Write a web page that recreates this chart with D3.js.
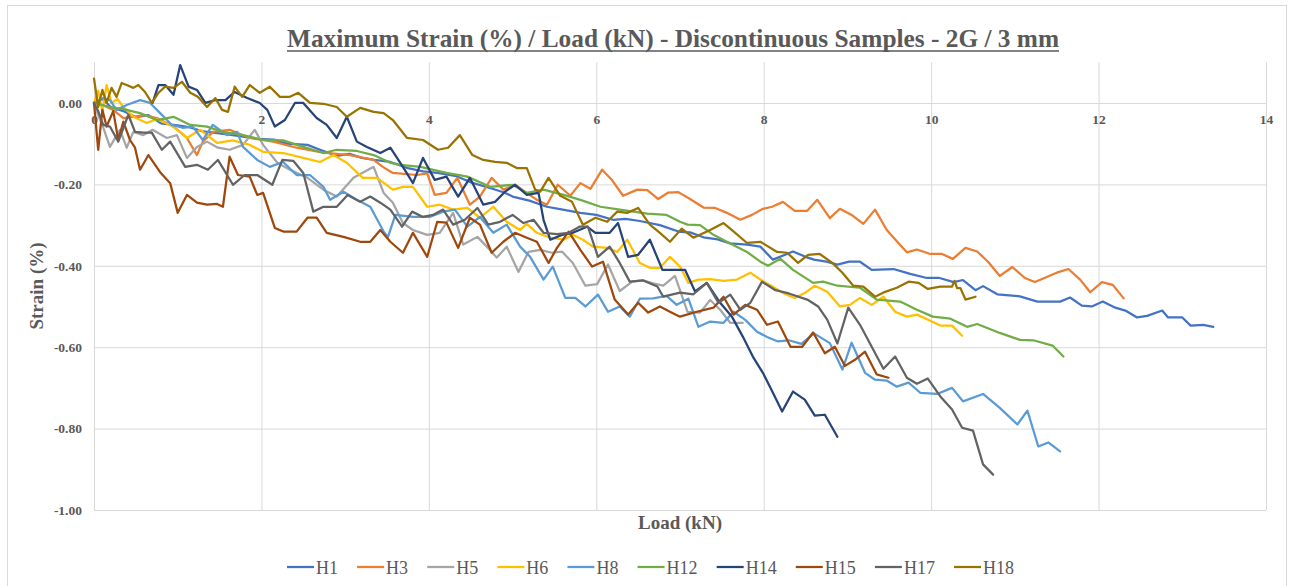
<!DOCTYPE html>
<html><head><meta charset="utf-8">
<script src="https://cdn.jsdelivr.net/npm/d3@7"></script>
<style>body{margin:0;background:#fff}svg{display:block}</style>
</head><body><svg id="c" width="1293" height="586"></svg>
<script>
const chartTitle = "Maximum Strain (%) / Load (kN) - Discontinuous Samples - 2G / 3 mm";
const xTitle = "Load (kN)";
const yTitle = "Strain (%)";
const xTicks = [0, 2, 4, 6, 8, 10, 12, 14];
const yTicks = [0, -0.2, -0.4, -0.6, -0.8, -1.0];
const seriesNames = ["H1", "H3", "H5", "H6", "H8", "H12", "H14", "H15", "H17", "H18"];
const seriesColors = ["#4472C4", "#ED7D31", "#A5A5A5", "#FFC000", "#5B9BD5", "#70AD47", "#264478", "#9E480E", "#636363", "#997300"];

// [load kN, strain %]
const H1 = [[0,0],[0.1,0.01],[0.2,-0.01],[0.35,-0.02],[0.5,-0.035],[0.65,-0.03],[0.8,-0.05],[1.0,-0.055],[1.15,-0.06],[1.3,-0.07],[1.5,-0.075],[1.7,-0.08],[1.95,-0.088],[2.15,-0.09],[2.3,-0.1],[2.55,-0.103],[2.7,-0.115],[2.9,-0.13],[3.05,-0.125],[3.2,-0.135],[3.35,-0.14],[3.54,-0.145],[3.75,-0.16],[3.93,-0.168],[4.1,-0.172],[4.33,-0.18],[4.5,-0.195],[4.73,-0.209],[4.9,-0.22],[5.0,-0.23],[5.2,-0.24],[5.41,-0.255],[5.6,-0.262],[5.81,-0.27],[6.0,-0.275],[6.2,-0.287],[6.35,-0.285],[6.52,-0.29],[6.76,-0.3],[7.0,-0.317],[7.12,-0.318],[7.28,-0.33],[7.45,-0.335],[7.6,-0.345],[7.8,-0.348],[7.96,-0.353],[8.11,-0.385],[8.35,-0.365],[8.5,-0.378],[8.6,-0.385],[8.75,-0.39],[8.88,-0.397],[9.02,-0.39],[9.15,-0.39],[9.29,-0.41],[9.55,-0.408],[9.75,-0.42],[9.95,-0.43],[10.1,-0.43],[10.27,-0.44],[10.38,-0.435],[10.53,-0.46],[10.62,-0.45],[10.79,-0.47],[11.06,-0.475],[11.27,-0.488],[11.54,-0.488],[11.66,-0.478],[11.8,-0.498],[11.92,-0.5],[12.05,-0.488],[12.2,-0.503],[12.32,-0.51],[12.46,-0.527],[12.58,-0.523],[12.76,-0.51],[12.83,-0.527],[13.0,-0.527],[13.1,-0.547],[13.25,-0.545],[13.37,-0.55]];
const H3 = [[0,0],[0.1,-0.005],[0.23,-0.017],[0.35,-0.037],[0.47,-0.034],[0.6,-0.03],[0.75,-0.037],[0.95,-0.058],[1.11,-0.086],[1.23,-0.128],[1.3,-0.095],[1.42,-0.071],[1.62,-0.066],[1.86,-0.086],[2.14,-0.095],[2.42,-0.11],[2.74,-0.122],[3.06,-0.128],[3.34,-0.14],[3.45,-0.157],[3.57,-0.172],[3.86,-0.177],[3.98,-0.173],[4.07,-0.226],[4.21,-0.221],[4.34,-0.184],[4.49,-0.25],[4.61,-0.23],[4.75,-0.184],[4.89,-0.213],[5.03,-0.201],[5.17,-0.221],[5.29,-0.238],[5.41,-0.25],[5.54,-0.201],[5.69,-0.228],[5.81,-0.197],[5.93,-0.211],[6.07,-0.164],[6.19,-0.19],[6.32,-0.228],[6.49,-0.213],[6.61,-0.214],[6.74,-0.236],[6.86,-0.22],[6.98,-0.219],[7.12,-0.236],[7.28,-0.257],[7.42,-0.258],[7.56,-0.27],[7.72,-0.287],[7.86,-0.275],[7.99,-0.26],[8.1,-0.255],[8.23,-0.243],[8.37,-0.265],[8.52,-0.265],[8.64,-0.238],[8.79,-0.283],[8.91,-0.26],[9.05,-0.275],[9.19,-0.297],[9.33,-0.262],[9.47,-0.312],[9.59,-0.34],[9.71,-0.367],[9.83,-0.36],[9.99,-0.371],[10.13,-0.371],[10.26,-0.383],[10.41,-0.356],[10.55,-0.365],[10.68,-0.39],[10.82,-0.425],[10.97,-0.403],[11.12,-0.43],[11.24,-0.44],[11.5,-0.417],[11.64,-0.408],[11.78,-0.434],[11.9,-0.465],[12.04,-0.44],[12.17,-0.447],[12.3,-0.48]];
const H5 = [[0,0],[0.05,-0.03],[0.11,-0.06],[0.19,-0.108],[0.31,-0.066],[0.39,-0.11],[0.47,-0.071],[0.59,-0.079],[0.7,-0.066],[0.87,-0.086],[0.99,-0.079],[1.11,-0.135],[1.23,-0.108],[1.35,-0.095],[1.48,-0.11],[1.62,-0.115],[1.78,-0.103],[1.92,-0.066],[2.02,-0.103],[2.19,-0.147],[2.34,-0.164],[2.55,-0.184],[2.74,-0.213],[2.9,-0.23],[3.1,-0.184],[3.34,-0.157],[3.46,-0.221],[3.57,-0.245],[3.69,-0.295],[3.81,-0.312],[3.98,-0.324],[4.13,-0.319],[4.29,-0.27],[4.41,-0.348],[4.58,-0.329],[4.73,-0.361],[4.81,-0.38],[4.93,-0.353],[5.07,-0.415],[5.19,-0.366],[5.33,-0.361],[5.47,-0.368],[5.59,-0.365],[5.72,-0.393],[5.87,-0.449],[6.01,-0.445],[6.14,-0.397],[6.28,-0.462],[6.43,-0.439],[6.56,-0.436],[6.68,-0.443],[6.8,-0.449],[6.94,-0.425],[7.09,-0.513],[7.24,-0.515],[7.36,-0.484],[7.48,-0.508],[7.6,-0.54],[7.75,-0.54]];
const H6 = [[0,0],[0.05,0.03],[0.1,-0.02],[0.15,0.044],[0.21,0.0],[0.28,0.01],[0.35,-0.01],[0.47,-0.034],[0.63,-0.049],[0.75,-0.04],[0.91,-0.054],[1.03,-0.071],[1.11,-0.086],[1.27,-0.066],[1.47,-0.098],[1.66,-0.092],[1.86,-0.103],[2.02,-0.12],[2.26,-0.123],[2.5,-0.135],[2.7,-0.145],[2.86,-0.128],[3.02,-0.147],[3.21,-0.184],[3.38,-0.184],[3.57,-0.213],[3.69,-0.206],[3.81,-0.206],[3.98,-0.255],[4.13,-0.25],[4.29,-0.262],[4.46,-0.258],[4.61,-0.282],[4.77,-0.255],[4.93,-0.292],[5.09,-0.312],[5.17,-0.297],[5.29,-0.319],[5.45,-0.331],[5.61,-0.336],[5.72,-0.324],[5.84,-0.336],[5.96,-0.353],[6.13,-0.356],[6.25,-0.366],[6.37,-0.336],[6.52,-0.393],[6.64,-0.405],[6.76,-0.405],[6.88,-0.378],[7.0,-0.402],[7.1,-0.442],[7.22,-0.434],[7.36,-0.433],[7.52,-0.437],[7.68,-0.434],[7.84,-0.417],[7.99,-0.438],[8.1,-0.45],[8.23,-0.467],[8.37,-0.479],[8.49,-0.467],[8.61,-0.449],[8.76,-0.464],[8.91,-0.5],[9.03,-0.496],[9.15,-0.479],[9.29,-0.496],[9.43,-0.476],[9.57,-0.513],[9.71,-0.525],[9.83,-0.52],[9.99,-0.535],[10.11,-0.547],[10.25,-0.547],[10.37,-0.572]];
const H8 = [[0,0],[0.11,0.012],[0.19,0.007],[0.27,-0.017],[0.39,-0.005],[0.55,0.007],[0.67,0.0],[0.79,-0.025],[0.93,-0.054],[1.06,-0.061],[1.18,-0.058],[1.3,-0.091],[1.42,-0.054],[1.59,-0.079],[1.71,-0.071],[1.78,-0.108],[1.95,-0.14],[2.1,-0.157],[2.26,-0.145],[2.42,-0.177],[2.58,-0.177],[2.74,-0.206],[2.82,-0.238],[2.98,-0.218],[3.14,-0.238],[3.3,-0.255],[3.46,-0.316],[3.51,-0.33],[3.6,-0.275],[3.81,-0.28],[4.01,-0.28],[4.17,-0.267],[4.31,-0.262],[4.46,-0.304],[4.61,-0.28],[4.77,-0.319],[4.93,-0.299],[5.09,-0.353],[5.21,-0.378],[5.37,-0.434],[5.48,-0.402],[5.63,-0.479],[5.75,-0.479],[5.87,-0.5],[6.02,-0.471],[6.14,-0.513],[6.28,-0.5],[6.4,-0.525],[6.52,-0.481],[6.68,-0.48],[6.84,-0.474],[6.96,-0.496],[7.1,-0.481],[7.22,-0.55],[7.36,-0.537],[7.52,-0.54],[7.64,-0.513],[7.78,-0.533],[7.92,-0.562],[8.04,-0.575],[8.17,-0.586],[8.3,-0.583],[8.45,-0.592],[8.6,-0.566],[8.79,-0.59],[8.94,-0.655],[9.05,-0.589],[9.21,-0.663],[9.33,-0.68],[9.47,-0.682],[9.59,-0.697],[9.73,-0.687],[9.87,-0.712],[10.07,-0.715],[10.25,-0.7],[10.38,-0.733],[10.62,-0.715],[10.82,-0.749],[11.03,-0.79],[11.15,-0.756],[11.28,-0.844],[11.4,-0.834],[11.54,-0.856]];
const H12 = [[0,0],[0.19,-0.01],[0.35,-0.015],[0.55,-0.025],[0.75,-0.042],[0.95,-0.034],[1.15,-0.054],[1.35,-0.058],[1.54,-0.071],[1.78,-0.079],[2.02,-0.091],[2.26,-0.092],[2.5,-0.108],[2.74,-0.123],[2.9,-0.115],[3.14,-0.118],[3.34,-0.128],[3.54,-0.147],[3.66,-0.152],[3.9,-0.157],[4.21,-0.172],[4.46,-0.181],[4.73,-0.206],[5.0,-0.201],[5.17,-0.221],[5.37,-0.213],[5.61,-0.226],[5.81,-0.238],[6.05,-0.255],[6.28,-0.262],[6.61,-0.272],[6.84,-0.275],[7.0,-0.292],[7.09,-0.299],[7.24,-0.3],[7.4,-0.324],[7.56,-0.341],[7.8,-0.366],[7.96,-0.39],[8.05,-0.4],[8.2,-0.383],[8.35,-0.41],[8.59,-0.442],[8.71,-0.439],[8.88,-0.449],[9.15,-0.454],[9.35,-0.483],[9.63,-0.488],[9.83,-0.508],[10.02,-0.525],[10.23,-0.53],[10.43,-0.55],[10.55,-0.543],[10.82,-0.565],[11.06,-0.582],[11.22,-0.583],[11.45,-0.596],[11.58,-0.623]];
const H14 = [[0.7,0],[0.77,0.044],[0.85,0.044],[0.95,0.02],[1.03,0.093],[1.13,0.04],[1.23,0.032],[1.33,0.0],[1.45,0.007],[1.57,0.007],[1.68,0.027],[1.83,0.012],[1.98,0.0],[2.07,-0.017],[2.16,-0.058],[2.28,-0.042],[2.4,0.0],[2.5,0.0],[2.66,-0.037],[2.78,-0.054],[2.9,-0.086],[3.02,-0.034],[3.14,-0.095],[3.26,-0.108],[3.42,-0.123],[3.54,-0.11],[3.69,-0.157],[3.81,-0.197],[3.93,-0.135],[4.07,-0.189],[4.21,-0.181],[4.35,-0.23],[4.49,-0.184],[4.65,-0.25],[4.79,-0.243],[4.91,-0.218],[5.03,-0.201],[5.17,-0.226],[5.31,-0.221],[5.37,-0.287],[5.45,-0.336],[5.59,-0.324],[5.72,-0.319],[5.89,-0.304],[5.99,-0.319],[6.16,-0.319],[6.26,-0.295],[6.38,-0.378],[6.5,-0.373],[6.64,-0.336],[6.79,-0.41],[6.92,-0.41],[7.06,-0.41],[7.18,-0.463],[7.32,-0.442],[7.48,-0.491],[7.62,-0.525],[7.75,-0.574],[7.87,-0.623],[7.99,-0.663],[8.11,-0.712],[8.22,-0.758],[8.35,-0.709],[8.49,-0.729],[8.61,-0.768],[8.73,-0.766],[8.88,-0.82]];
const H15 = [[0,0],[0.05,-0.115],[0.1,-0.017],[0.15,-0.058],[0.23,-0.02],[0.29,-0.091],[0.35,-0.046],[0.43,-0.091],[0.49,-0.11],[0.55,-0.164],[0.65,-0.128],[0.79,-0.17],[0.91,-0.197],[1.0,-0.27],[1.11,-0.226],[1.23,-0.245],[1.35,-0.25],[1.47,-0.248],[1.54,-0.255],[1.62,-0.132],[1.72,-0.177],[1.86,-0.181],[1.95,-0.226],[2.02,-0.221],[2.16,-0.307],[2.26,-0.316],[2.42,-0.316],[2.55,-0.282],[2.66,-0.282],[2.78,-0.319],[2.98,-0.329],[3.18,-0.341],[3.3,-0.341],[3.42,-0.312],[3.54,-0.341],[3.69,-0.368],[3.81,-0.319],[3.98,-0.378],[4.1,-0.292],[4.21,-0.294],[4.35,-0.356],[4.49,-0.282],[4.61,-0.299],[4.75,-0.368],[4.89,-0.341],[5.03,-0.319],[5.17,-0.331],[5.29,-0.341],[5.43,-0.393],[5.53,-0.356],[5.67,-0.316],[5.81,-0.361],[5.95,-0.402],[6.08,-0.39],[6.22,-0.483],[6.38,-0.52],[6.5,-0.491],[6.62,-0.515],[6.76,-0.5],[6.88,-0.513],[7.0,-0.525],[7.2,-0.513],[7.4,-0.503],[7.52,-0.476],[7.64,-0.52],[7.78,-0.496],[7.92,-0.508],[8.04,-0.545],[8.17,-0.537],[8.32,-0.599],[8.46,-0.599],[8.59,-0.564],[8.73,-0.615],[8.85,-0.599],[8.97,-0.646],[9.09,-0.631],[9.21,-0.611],[9.35,-0.667],[9.49,-0.675]];
const H17 = [[0,0],[0.05,-0.02],[0.11,-0.054],[0.19,-0.058],[0.29,-0.095],[0.41,-0.029],[0.49,-0.071],[0.59,-0.073],[0.69,-0.073],[0.81,-0.115],[0.91,-0.095],[1.09,-0.157],[1.23,-0.152],[1.36,-0.164],[1.48,-0.14],[1.66,-0.201],[1.8,-0.177],[1.95,-0.177],[2.13,-0.201],[2.25,-0.14],[2.38,-0.142],[2.5,-0.172],[2.62,-0.267],[2.74,-0.255],[2.9,-0.255],[3.03,-0.226],[3.18,-0.243],[3.3,-0.23],[3.42,-0.245],[3.54,-0.262],[3.68,-0.304],[3.8,-0.267],[3.93,-0.28],[4.05,-0.275],[4.17,-0.262],[4.29,-0.299],[4.43,-0.287],[4.58,-0.258],[4.71,-0.299],[4.85,-0.292],[5.0,-0.275],[5.13,-0.295],[5.25,-0.287],[5.37,-0.319],[5.53,-0.322],[5.67,-0.319],[5.8,-0.304],[5.9,-0.304],[6.02,-0.378],[6.16,-0.353],[6.28,-0.393],[6.4,-0.439],[6.56,-0.436],[6.73,-0.451],[6.8,-0.476],[7.0,-0.466],[7.16,-0.47],[7.32,-0.442],[7.46,-0.491],[7.6,-0.471],[7.72,-0.508],[7.84,-0.491],[7.98,-0.439],[8.14,-0.46],[8.3,-0.468],[8.52,-0.483],[8.65,-0.5],[8.76,-0.533],[8.88,-0.591],[9.01,-0.503],[9.15,-0.545],[9.29,-0.599],[9.43,-0.653],[9.57,-0.623],[9.71,-0.675],[9.83,-0.69],[9.96,-0.677],[10.11,-0.721],[10.25,-0.753],[10.37,-0.798],[10.5,-0.805],[10.62,-0.888],[10.74,-0.913]];
const H18 = [[0,0.06],[0.05,-0.01],[0.1,0.032],[0.15,0.0],[0.21,0.037],[0.27,0.015],[0.33,0.049],[0.39,0.044],[0.47,0.037],[0.53,0.044],[0.61,0.027],[0.69,0.0],[0.77,0.025],[0.85,0.04],[0.95,0.037],[1.05,0.052],[1.15,0.025],[1.24,0.015],[1.35,-0.01],[1.45,0.012],[1.53,-0.017],[1.6,-0.022],[1.68,0.04],[1.77,0.015],[1.86,0.044],[1.98,0.025],[2.1,0.04],[2.22,0.015],[2.34,0.015],[2.44,0.025],[2.58,0.0],[2.74,-0.002],[2.9,-0.01],[3.02,-0.034],[3.18,-0.012],[3.34,-0.022],[3.46,-0.025],[3.57,-0.042],[3.74,-0.086],[3.93,-0.091],[4.11,-0.115],[4.23,-0.11],[4.37,-0.079],[4.52,-0.128],[4.65,-0.14],[4.79,-0.145],[4.93,-0.147],[5.05,-0.16],[5.17,-0.16],[5.27,-0.213],[5.33,-0.218],[5.43,-0.184],[5.57,-0.228],[5.71,-0.243],[5.84,-0.299],[5.99,-0.282],[6.13,-0.292],[6.25,-0.267],[6.37,-0.27],[6.5,-0.258],[6.64,-0.299],[6.76,-0.319],[6.88,-0.341],[7.02,-0.309],[7.16,-0.331],[7.36,-0.312],[7.52,-0.295],[7.66,-0.319],[7.8,-0.344],[7.96,-0.341],[8.16,-0.366],[8.28,-0.368],[8.41,-0.393],[8.53,-0.373],[8.67,-0.371],[8.82,-0.393],[8.94,-0.417],[9.07,-0.449],[9.19,-0.451],[9.33,-0.476],[9.45,-0.464],[9.59,-0.454],[9.73,-0.439],[9.85,-0.442],[9.96,-0.457],[10.11,-0.451],[10.25,-0.451],[10.28,-0.437],[10.31,-0.455],[10.35,-0.455],[10.41,-0.483],[10.53,-0.476]];

const seriesData = [H1, H3, H5, H6, H8, H12, H14, H15, H17, H18];

const FONT = "'Liberation Serif','Times New Roman',serif";
const TXT = "#595959";
const GRID = "#D9D9D9";

const svg = d3.select("#c");
svg.append("rect").attr("x", 7.5).attr("y", 5.5).attr("width", 1279).attr("height", 620)
  .attr("fill", "#fff").attr("stroke", "#D9D9D9").attr("stroke-width", 1);

const x = d3.scaleLinear().domain([0, 14]).range([94, 1266]);
const y = d3.scaleLinear().domain([-1, 0.1]).range([510, 62.25]);

// vertical grid
svg.append("g").attr("transform", `translate(0,${y(-1)})`)
  .call(d3.axisBottom(x).tickValues(xTicks).tickSize(-(y(-1) - y(0.1))).tickFormat(""))
  .call(g => g.select(".domain").remove())
  .call(g => g.selectAll("line").attr("stroke", GRID).attr("stroke-width", 1));

// horizontal grid + y labels
svg.append("g").attr("transform", `translate(${x(0)},0)`)
  .call(d3.axisLeft(y).tickValues(yTicks).tickSize(-(x(14) - x(0))).tickPadding(12).tickFormat(d => d.toFixed(2)))
  .call(g => g.select(".domain").remove())
  .call(g => g.selectAll("line").attr("stroke", GRID).attr("stroke-width", 1))
  .call(g => g.selectAll("text").attr("fill", TXT).attr("font-family", FONT)
    .attr("font-size", 13.5).attr("font-weight", "bold"));

// x labels below zero line
svg.append("g").attr("transform", `translate(0,${y(0)})`)
  .call(d3.axisBottom(x).tickValues(xTicks).tickSize(0).tickPadding(11).tickFormat(d => d))
  .call(g => g.select(".domain").remove())
  .call(g => g.selectAll("text").attr("fill", TXT).attr("font-family", FONT)
    .attr("font-size", 13.5).attr("font-weight", "bold"));

// series
const line = d3.line().x(d => x(d[0])).y(d => y(d[1]));
svg.append("g").selectAll("path").data(seriesData).join("path")
  .attr("d", line).attr("fill", "none")
  .attr("stroke", (d, i) => seriesColors[i]).attr("stroke-width", 2.25)
  .attr("stroke-linejoin", "round").attr("stroke-linecap", "round");

// title
svg.append("text").attr("x", 673).attr("y", 47).attr("text-anchor", "middle")
  .attr("font-family", FONT).attr("font-size", 25.5).attr("font-weight", "bold").attr("fill", TXT)
  .attr("textLength", 772).attr("lengthAdjust", "spacingAndGlyphs").text(chartTitle);
svg.append("line").attr("x1", 287).attr("x2", 1059).attr("y1", 51).attr("y2", 51)
  .attr("stroke", TXT).attr("stroke-width", 1.6);

// axis titles
svg.append("text").attr("x", 680).attr("y", 529).attr("text-anchor", "middle")
  .attr("font-family", FONT).attr("font-size", 19).attr("font-weight", "bold").attr("fill", TXT).text(xTitle);
svg.append("text").attr("transform", "translate(43,286) rotate(-90)").attr("text-anchor", "middle")
  .attr("font-family", FONT).attr("font-size", 19).attr("font-weight", "bold").attr("fill", TXT).text(yTitle);

// legend
const lg = svg.append("g");
const items = seriesNames.map((n, i) => {
  const g = lg.append("g");
  g.append("line").attr("x1", 0).attr("x2", 27).attr("y1", 0).attr("y2", 0)
    .attr("stroke", seriesColors[i]).attr("stroke-width", 2.25);
  const t = g.append("text").attr("x", 29).attr("y", 6.5).attr("font-family", FONT)
    .attr("font-size", 18).attr("fill", TXT).text(n);
  return {g, w: 29 + t.node().getComputedTextLength()};
});
const startX = 287, endX = 1014;
const sumW = d3.sum(items, d => d.w);
const gap = (endX - startX - sumW) / (items.length - 1);
let cx = startX;
items.forEach(it => { it.g.attr("transform", `translate(${cx},567)`); cx += it.w + gap; });
</script></body></html>
